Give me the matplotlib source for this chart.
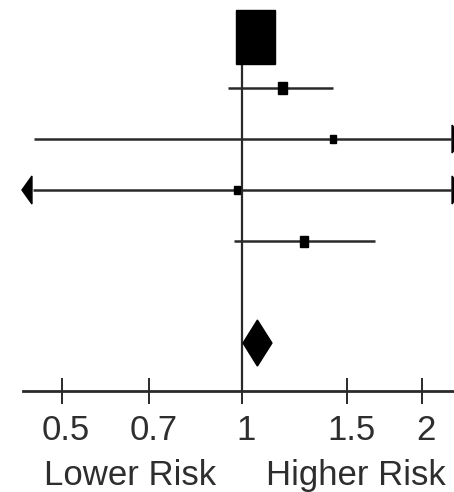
import numpy as np
import matplotlib
matplotlib.use("Agg")
import matplotlib.pyplot as plt
import matplotlib.transforms as mtransforms
from matplotlib.patches import Rectangle, Polygon

plt.rcParams['font.family'] = ['Liberation Sans', 'DejaVu Sans']

# study estimates (risk ratio) with confidence intervals
estimate = [1.053, 1.17, 1.42, 0.98, 1.27]
lower = [0.99, 0.948, 0.449, 0.30, 0.97]
upper = [1.12, 1.42, 3.50, 3.50, 1.67]
weight = [39, 9, 6, 6, 8]

# pooled estimate
pooled_est = 1.061
pooled_lo = 1.004
pooled_hi = 1.122

tick_values = [0.5, 0.7, 1, 1.5, 2]
tick_labels = ['0.5', '0.7', '1', '1.5', '2']

W, H = 454, 492
fig = plt.figure(figsize=(W / 100, H / 100), dpi=100)
ax = fig.add_axes([23 / W, (H - 391) / H, 1 - 23 / W, 391 / H])

xmin, xmax = 0.4307, 2.26
ax.set_xscale('log')
ax.set_xlim(xmin, xmax)
ax.set_ylim(6.94, -0.725)

px_x = 260.0  # pixels per log unit
px_y = 51.0   # pixels per row
line_c = '#2a2a2a'

# line of no effect
ax.plot([1, 1], [-0.53, 6.94], color=line_c, lw=1.6, solid_capstyle='butt')

rows = np.arange(len(estimate))
arr_w = 10 / px_x
arr_h = 14 / px_y
for r, est, lo, hi, w in zip(rows, estimate, lower, upper, weight):
    lo_c = max(lo, 0.4307 * np.exp(10 / px_x))
    hi_c = min(hi, 2.243)
    ax.plot([lo_c, hi_c], [r, r], color=line_c, lw=1.8, solid_capstyle='butt')
    if lo < xmin:
        tip = 0.429
        ax.add_patch(Polygon([(tip, r), (tip * np.exp(arr_w), r - arr_h),
                              (tip * np.exp(arr_w), r + arr_h)],
                             closed=True, color='black', clip_on=False))
    if hi > xmax:
        base = 2.243
        ax.add_patch(Polygon([(base * np.exp(arr_w), r), (base, r - arr_h),
                              (base, r + arr_h)],
                             closed=True, color='black', clip_on=False))
    hw = w / 2 / px_x
    hh = w * 1.38 / 2 / px_y
    ax.add_patch(Rectangle((est * np.exp(-hw), r - hh),
                           est * np.exp(hw) - est * np.exp(-hw), 2 * hh,
                           color='black', zorder=3))

# pooled diamond
pr = 6
dh = 23 / px_y
ax.add_patch(Polygon([(pooled_lo, pr), (pooled_est, pr - dh),
                      (pooled_hi, pr), (pooled_est, pr + dh)],
                     closed=True, color='black', zorder=3))

for s in ['top', 'right', 'left']:
    ax.spines[s].set_visible(False)
ax.spines['bottom'].set_linewidth(2.0)
ax.spines['bottom'].set_color(line_c)
ax.set_yticks([])
ax.xaxis.set_minor_locator(matplotlib.ticker.NullLocator())
ax.set_xticks(tick_values)
ax.set_xticklabels(tick_labels)
ax.tick_params(axis='x', direction='inout', length=19, width=1.4,
               color=line_c, labelsize=25, labelcolor='#2e2e2e', pad=7)

# labels sit a few pixels right of their ticks in the original
shift = mtransforms.ScaledTranslation(4 / 100, 0, fig.dpi_scale_trans)
for lab in ax.get_xticklabels():
    lab.set_transform(lab.get_transform() + shift)

fig.text(130 / W, (H - 485) / H, 'Lower Risk', ha='center', va='baseline',
         fontsize=25, color='#2e2e2e')
fig.text(356 / W, (H - 485) / H, 'Higher Risk', ha='center', va='baseline',
         fontsize=25, color='#2e2e2e')

fig.savefig('out.png', dpi=100)
